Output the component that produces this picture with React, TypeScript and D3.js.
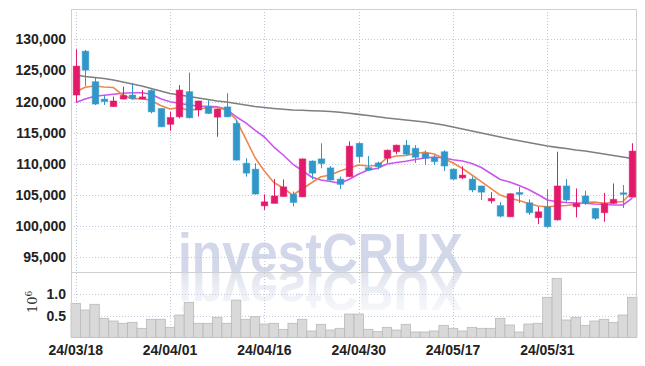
import React from 'react';
import * as d3 from 'd3';

const dates = [
  '24/03/18','24/03/19','24/03/20','24/03/21','24/03/22','24/03/25','24/03/26','24/03/27','24/03/28','24/03/29',
  '24/04/01','24/04/02','24/04/03','24/04/04','24/04/05','24/04/08','24/04/09','24/04/11','24/04/12','24/04/15',
  '24/04/16','24/04/17','24/04/18','24/04/19','24/04/22','24/04/23','24/04/24','24/04/25','24/04/26','24/04/29',
  '24/04/30','24/05/02','24/05/03','24/05/07','24/05/08','24/05/09','24/05/10','24/05/13','24/05/14','24/05/16',
  '24/05/17','24/05/20','24/05/21','24/05/22','24/05/23','24/05/24','24/05/27','24/05/28','24/05/29','24/05/30',
  '24/05/31','24/06/03','24/06/04','24/06/05','24/06/07','24/06/10','24/06/11','24/06/12','24/06/13','24/06/14',
];

const open = [121050,128100,123200,120400,119200,120400,121050,120400,121800,118900,
  116350,117550,121600,118650,119200,117500,119150,116500,110100,109150,
  103250,103650,104750,105100,104700,110450,110800,109350,107550,107950,
  113300,109400,110150,110900,111950,113000,112500,111700,111000,111950,
  109150,107750,107550,106450,104050,103300,101500,105400,103750,101350,
  103100,101000,106450,103100,104850,102850,102150,103650,105350,104650];

const high = [128400,128300,123850,121050,120800,122400,123000,121850,121950,118950,
  118350,122650,124650,120150,120200,118900,121350,117050,110900,110100,
  105100,107550,107500,105550,110850,110550,113300,109650,107950,113600,
  113450,111250,110350,112300,113100,113850,113000,112150,111400,112200,
  109250,109600,107950,106500,105450,103850,105300,106300,104300,103100,
  105900,111950,107550,106050,105700,102900,105350,106850,106600,113300];

const low = [119950,122500,119450,119450,119150,120350,120350,120350,118100,115900,
  115300,117300,117300,117600,118000,114350,117500,110550,107950,105050,
  102600,103650,104750,103150,104650,107500,109300,107300,105950,107900,
  110150,108850,109100,110150,111550,111400,110150,109800,109800,108850,
  107400,107550,105450,104200,103650,101400,101450,103700,101800,100300,
  99750,100900,103900,101400,103400,101000,100700,103550,102900,104600];

const close = [125700,125050,119600,120000,120100,121000,120500,120750,118350,115950,
  117450,121850,117400,120100,118100,118800,117550,110600,108500,105150,
  103900,104850,106300,103800,110800,108500,110050,107400,106700,112850,
  111150,109000,109550,112200,113000,111550,111050,110900,110350,109650,
  107550,108200,105800,105450,104450,101600,105200,105100,102150,102300,
  99900,106450,104200,103650,103650,101250,103650,104300,105100,112050];

// volume in millions
const volume = [0.777,0.625,0.755,0.436,0.375,0.323,0.345,0.209,0.414,0.414,
  0.232,0.511,0.800,0.323,0.323,0.459,0.323,0.852,0.414,0.473,
  0.307,0.323,0.186,0.323,0.414,0.148,0.300,0.170,0.209,0.534,
  0.534,0.186,0.132,0.232,0.170,0.300,0.125,0.125,0.148,0.277,
  0.209,0.148,0.232,0.209,0.209,0.436,0.284,0.125,0.307,0.323,
  0.914,1.345,0.398,0.459,0.277,0.375,0.414,0.345,0.511,0.914];

const maShort = [121550,122290,122500,122340,122260,121050,120410,120490,120170,119370,
  118810,119050,118560,118810,119050,119050,118650,117120,114100,111020,
  108850,107000,106120,104990,105960,106970,107930,108210,108850,109330,
  109810,109650,109730,110940,111260,111340,111660,111850,111580,110860,
  110130,109250,108210,107130,106070,104990,104460,104110,103630,103230,
  103110,103230,103310,103470,103790,103870,103660,103790,103950,105520];

const maMid = [119850,120410,120850,121010,121170,121330,121420,121420,121180,120460,
  119980,119720,119450,119290,119240,119180,118760,117570,116610,115430,
  114310,112700,111420,109970,108930,107890,107400,107160,106870,107520,
  108370,109010,109280,109970,110210,110410,110700,110940,111100,110940,
  110660,110450,110050,109410,108450,107480,107080,106520,105880,105070,
  104190,103920,103790,103710,103660,103550,103500,103390,103390,104510];

const maLong = [124270,124030,123860,123700,123460,123140,122820,122500,122100,121700,
  121300,121050,120810,120570,120330,120090,119930,119690,119450,119210,
  119050,118890,118760,118650,118600,118530,118480,118400,118280,118120,
  117950,117760,117570,117360,117200,117040,116880,116720,116480,116240,
  115920,115590,115270,114950,114630,114310,113990,113700,113430,113140,
  112860,112650,112460,112220,112060,111820,111580,111340,111100,110860];

const priceTicks = [95000,100000,105000,110000,115000,120000,125000,130000];
const volumeTicks = [0.5, 1.0];
const dateTickIndex = [0,10,20,30,40,50];

const W = 645, H = 366;
const L = 71, R = 637, TOP = 9, MID = 272, BOT = 337.5;
const UP = '#e3196a', DOWN = '#3197c9';
const FONT = "'Liberation Sans Narrow','Arial Narrow',sans-serif";

export default function App() {
  const n = dates.length;
  const x = d3.scaleBand<number>().domain(d3.range(n)).range([L, R]).padding(0);
  const bw = x.bandwidth();
  const cx = (i: number) => (x(i) as number) + bw / 2;
  const y = d3.scaleLinear().domain([92630, 134870]).range([MID, TOP]);
  const yv = d3.scaleLinear().domain([0, 1.49]).range([BOT, MID]);
  const line = (arr: number[]) => d3.line<number>().x((_, i) => cx(i)).y((d) => y(d))(arr) || '';
  const fmt = d3.format(',');
  const bodyW = 6.6;

  return (
    <svg width={W} height={H} style={{ position: 'absolute', left: 0, top: 0, background: '#fff' }}>
      <defs>
        <linearGradient id="refl" gradientUnits="userSpaceOnUse" x1="0" y1={MID} x2="0" y2={MID - 44}>
          <stop offset="0" stopColor="#dfe3ee" stopOpacity="1" />
          <stop offset="1" stopColor="#eef0f6" stopOpacity="0.4" />
        </linearGradient>
        <clipPath id="plotclip"><rect x={L} y={TOP} width={R - L} height={BOT - TOP} /></clipPath>
      </defs>

      {/* watermark */}
      <text x={178} y={MID} fontFamily="'Liberation Sans',Arial,sans-serif" fontWeight="bold" fontSize={56}
        fill="#d2d8ea" textLength={285} lengthAdjust="spacingAndGlyphs">investCRUX</text>
      <g transform={`translate(0,${2 * MID}) scale(1,-1)`}>
        <text x={178} y={MID} fontFamily="'Liberation Sans',Arial,sans-serif" fontWeight="bold" fontSize={56}
          fill="url(#refl)" textLength={285} lengthAdjust="spacingAndGlyphs">investCRUX</text>
      </g>

      {/* grid */}
      <g stroke="#c3c9dc" strokeWidth={1} strokeDasharray="1,2">
        {priceTicks.map((t) => (
          <line key={'p' + t} x1={L} x2={R} y1={Math.round(y(t)) + 0.5} y2={Math.round(y(t)) + 0.5} />
        ))}
        {volumeTicks.map((t) => (
          <line key={'v' + t} x1={L} x2={R} y1={Math.round(yv(t)) + 0.5} y2={Math.round(yv(t)) + 0.5} />
        ))}
        {dateTickIndex.map((i) => (
          <line key={'d' + i} x1={Math.round(cx(i)) + 0.5} x2={Math.round(cx(i)) + 0.5} y1={TOP} y2={BOT} />
        ))}
      </g>

      {/* volume bars */}
      <g>
        {volume.map((v, i) => (
          <rect key={'vb' + i} x={x(i)} y={yv(v)} width={bw} height={BOT - yv(v)}
            fill="#d9d9d9" stroke="#b9b9b9" strokeWidth={0.8} />
        ))}
      </g>

      {/* frame */}
      <g stroke="#d0d0d0" strokeWidth={1} fill="none">
        <line x1={L} x2={R} y1={TOP + 0.5} y2={TOP + 0.5} />
        <line x1={L} x2={R} y1={MID + 0.5} y2={MID + 0.5} />
        <line x1={L + 0.5} x2={L + 0.5} y1={TOP} y2={BOT} />
        <line x1={R - 0.5} x2={R - 0.5} y1={TOP} y2={BOT} />
      </g>

      {/* moving averages */}
      <g fill="none" strokeWidth={1.6} strokeLinejoin="round" clipPath="url(#plotclip)">
        <path d={line(maLong)} stroke="#7f7f7f" />
        <path d={line(maMid)} stroke="#cc55ee" />
        <path d={line(maShort)} stroke="#f0874a" />
      </g>

      {/* candles */}
      <g>
        {open.map((o, i) => {
          const c = close[i];
          const col = c >= o ? UP : DOWN;
          const top = y(Math.max(o, c));
          const bot = y(Math.min(o, c));
          const xc = Math.round(cx(i)) + 0.5;
          return (
            <g key={'c' + i}>
              <line x1={xc} x2={xc} y1={y(high[i])} y2={y(low[i])} stroke={col} strokeWidth={1} />
              <rect x={xc - bodyW / 2} y={top} width={bodyW} height={Math.max(1.5, bot - top)}
                fill={col} stroke={col} strokeOpacity={0.45} strokeWidth={1} />
            </g>
          );
        })}
      </g>

      {/* axis labels */}
      <g fontFamily={FONT} fontWeight="bold" fontSize={14} fill="#222">
        {priceTicks.map((t) => (
          <text key={'pl' + t} x={66} y={y(t) + 5} textAnchor="end">{fmt(t)}</text>
        ))}
        {volumeTicks.map((t) => (
          <text key={'vl' + t} x={66} y={yv(t) + 5} textAnchor="end">{t.toFixed(1)}</text>
        ))}
        {dateTickIndex.map((i) => (
          <text key={'dl' + i} x={cx(i)} y={355} textAnchor="middle">{dates[i]}</text>
        ))}
      </g>
      <text transform="translate(37,313) rotate(-90)" fontFamily="'DejaVu Serif',serif" fontSize={13} fill="#333">
        10<tspan dy={-5} fontSize={9}>6</tspan>
      </text>
    </svg>
  );
}
